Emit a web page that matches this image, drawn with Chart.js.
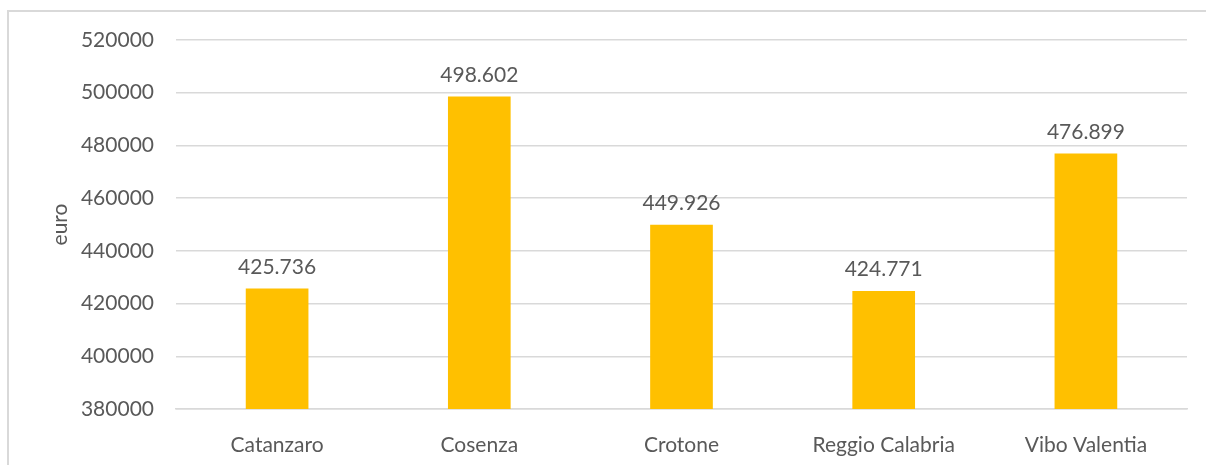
<!DOCTYPE html>
<html>
<head>
<meta charset="utf-8">
<script src="https://cdn.jsdelivr.net/npm/chart.js@4"></script>
<style>
  body { margin: 0; background: #fff; }
  #wrap { position: relative; width: 1206px; height: 465px; }
  #frame { position: absolute; left: 7px; top: 10px; width: 1210px; height: 470px; border: 2px solid #d9d9d9; box-sizing: border-box; }
  #grafico { position: absolute; left: 0; top: 0; }
</style>
</head>
<body>
<div id="wrap">
  <div id="frame"></div>
  <canvas id="grafico" width="1206" height="465"></canvas>
</div>
<script>
const province = ['Catanzaro', 'Cosenza', 'Crotone', 'Reggio Calabria', 'Vibo Valentia'];
const valori = [425736, 498602, 449926, 424771, 476899];
const yMin = 380000;
const yMax = 520000;
const yStep = 20000;

const testo = '#595959';
const font = 'Lato, "Liberation Sans", sans-serif';

// etichette sopra le barre, col punto come separatore delle migliaia
const etichette = {
  id: 'etichette',
  afterDatasetsDraw(chart) {
    const ctx = chart.ctx;
    ctx.save();
    ctx.font = '21px ' + font;
    ctx.fillStyle = testo;
    ctx.textAlign = 'center';
    ctx.textBaseline = 'bottom';
    chart.getDatasetMeta(0).data.forEach((bar, i) => {
      const s = valori[i].toString().replace(/\B(?=(\d{3})+(?!\d))/g, '.');
      ctx.fillText(s, bar.x, bar.y - 11);
    });
    ctx.restore();
  }
};

new Chart(document.getElementById('grafico'), {
  type: 'bar',
  data: {
    labels: province,
    datasets: [{
      data: valori,
      backgroundColor: '#FFC000',
      barPercentage: 1,
      categoryPercentage: 0.31
    }]
  },
  options: {
    responsive: false,
    animation: false,
    layout: { padding: { top: 40, right: 19, left: 0, bottom: 0 } },
    plugins: {
      legend: { display: false },
      tooltip: { enabled: false }
    },
    scales: {
      x: {
        grid: { display: false },
        border: { color: '#d9d9d9', width: 1.5 },
        ticks: { color: testo, font: { family: font, size: 21 }, padding: 16 },
        afterFit(scale) { scale.height = 56; }
      },
      y: {
        min: yMin,
        max: yMax,
        border: { display: false },
        grid: { color: '#d9d9d9', lineWidth: 1.5, drawTicks: false },
        ticks: {
          stepSize: yStep, color: testo, font: { family: font, size: 21 }, padding: 22,
          callback: v => String(v)
        },
        title: { display: true, text: 'euro', color: testo, font: { family: font, size: 21 }, padding: { top: 48, bottom: 0 } },
        afterFit(scale) { scale.width = 176; }
      }
    }
  },
  plugins: [etichette]
});
</script>
</body>
</html>
